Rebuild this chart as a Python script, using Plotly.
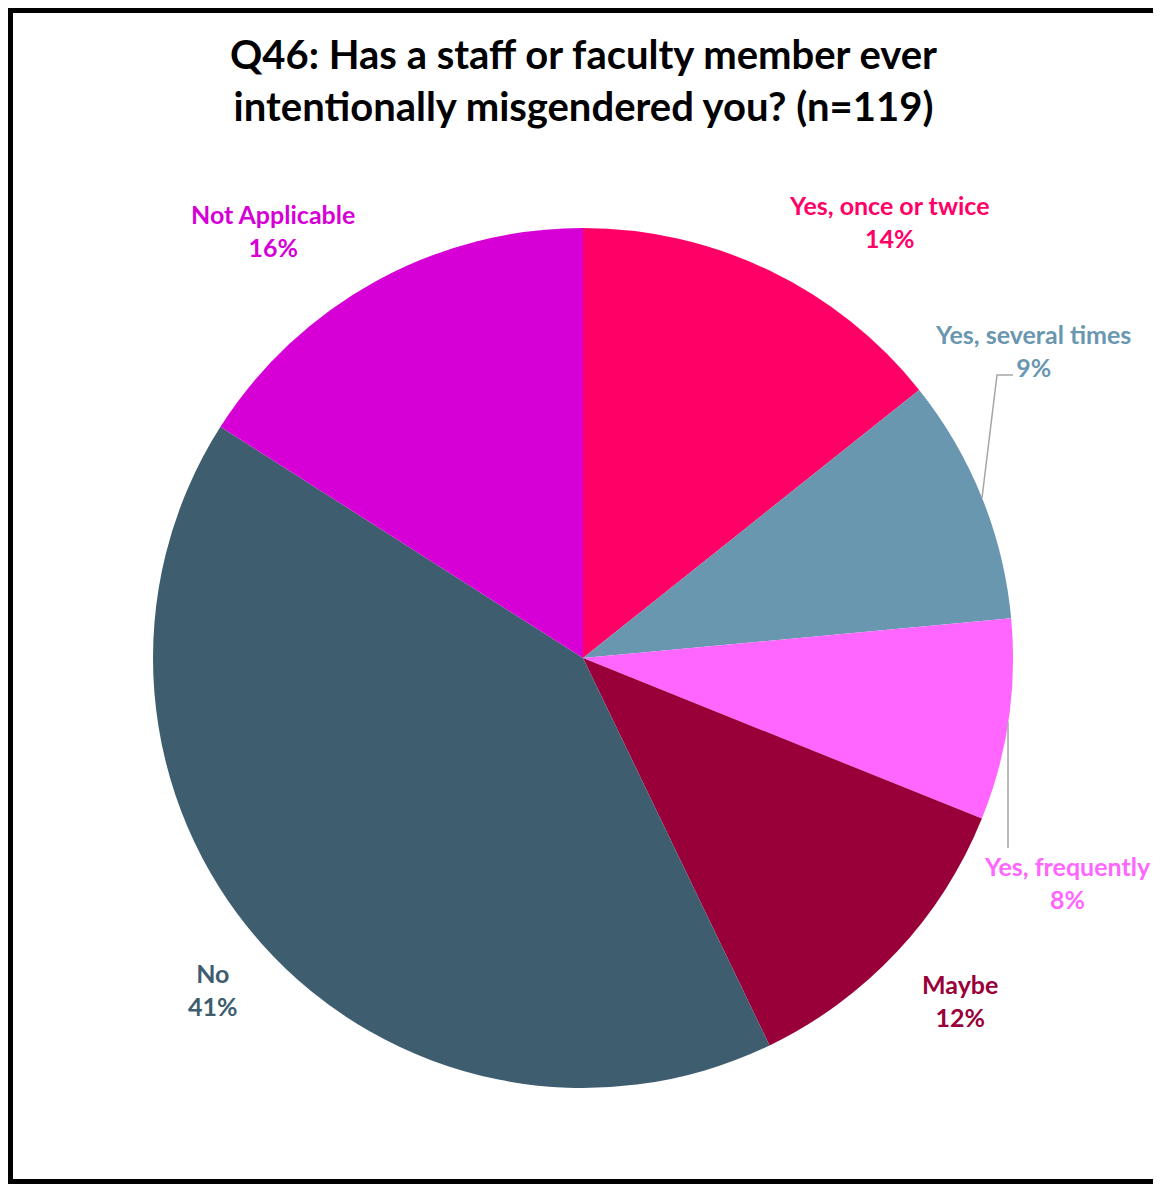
import plotly.graph_objects as go

# ---- data ----
categories = ["Yes, once or twice", "Yes, several times", "Yes, frequently",
              "Maybe", "No", "Not Applicable"]
counts = [17, 11, 9, 14, 49, 19]
colors = ["#FF0066", "#6A97B0", "#FF66FF", "#990039", "#3E5E70", "#D600D6"]
title_text = "Q46: Has a staff or faculty member ever<br>intentionally misgendered you? (n=119)"

# page offset from the browser's default body margin
OFF = 8
W, H = 1153, 1176
total = sum(counts)
pcts = [round(c / total * 100) for c in counts]

# label anchor positions (page pixels) for each category
label_pos = [(889, 221), (1033, 350), (1067, 882), (960, 1000), (213, 989), (273, 231)]


def px(x):
    return (x - OFF) / W


def py(y):
    return 1 - (y - OFF) / H


FONT = "Lato"

fig = go.Figure()
fig.add_trace(go.Pie(
    labels=categories,
    values=counts,
    sort=False,
    direction="clockwise",
    rotation=0,
    marker=dict(colors=colors, line=dict(width=0)),
    textinfo="none",
    hoverinfo="label+percent",
    showlegend=False,
    domain=dict(x=[px(153), px(1013)], y=[py(1088), py(228)]),
))

annotations = []
for cat, p, col, (x, y) in zip(categories, pcts, colors, label_pos):
    annotations.append(dict(
        x=px(x), y=py(y), xref="paper", yref="paper",
        text=f"<b>{cat}<br>{p}%</b>", showarrow=False,
        font=dict(family=FONT, size=25, color=col),
        align="center", xanchor="center", yanchor="middle",
    ))

annotations.append(dict(
    x=px(583), y=py(80), xref="paper", yref="paper",
    text=f"<b>{title_text}</b>", showarrow=False,
    font=dict(family=FONT, size=40, color="#000000"),
    align="center", xanchor="center", yanchor="middle",
))

shapes = [
    # outer frame
    dict(type="rect", xref="paper", yref="paper",
         x0=2.5 / W, x1=(W - 3) / W, y0=2.5 / H, y1=(H - 2.5) / H,
         line=dict(color="#000000", width=5)),
    # leader line: Yes, several times
    dict(type="path", xref="paper", yref="paper",
         path=f"M {px(982)},{py(498)} L {px(997)},{py(375)} L {px(1013)},{py(375)}",
         line=dict(color="#A6A6A6", width=1.5)),
    # leader line: Yes, frequently
    dict(type="line", xref="paper", yref="paper",
         x0=px(1008), x1=px(1008), y0=py(722), y1=py(848),
         line=dict(color="#A6A6A6", width=1.5)),
]

fig.update_layout(
    width=W, height=H,
    margin=dict(l=0, r=0, t=0, b=0),
    paper_bgcolor="#FFFFFF",
    plot_bgcolor="#FFFFFF",
    annotations=annotations,
    shapes=shapes,
)

fig.write_html("out.html")
